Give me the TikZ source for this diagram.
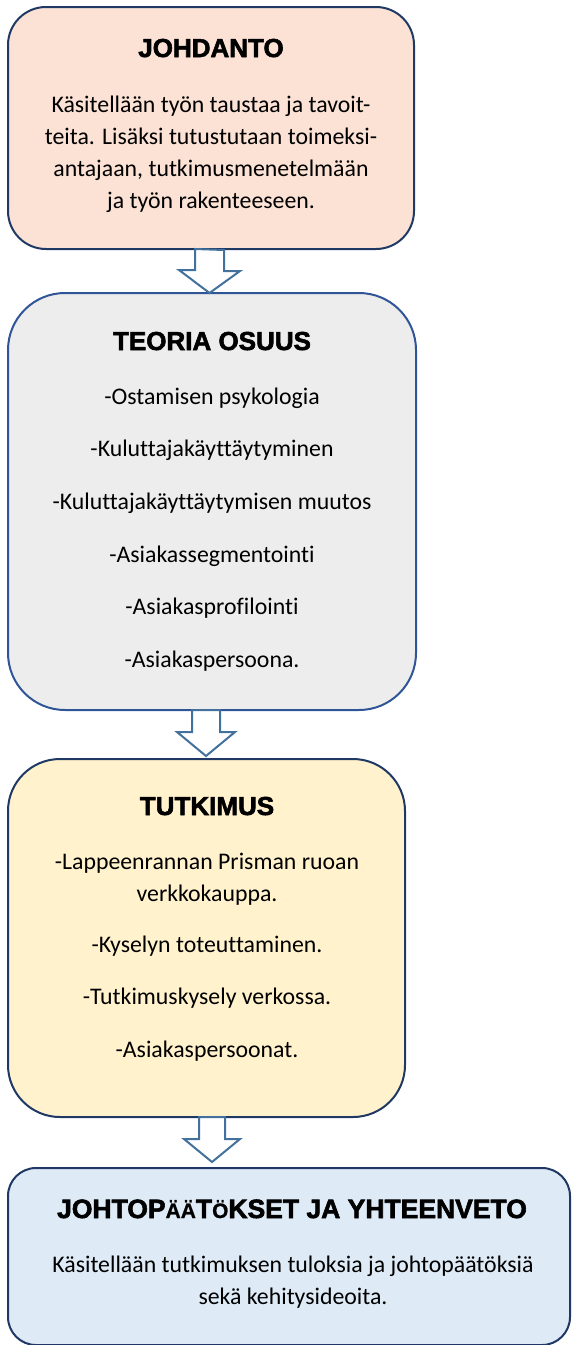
\documentclass[tikz,border=0pt]{standalone}
\usepackage{fontspec}
\setmainfont{Carlito}[Ligatures=NoCommon]
\newfontfamily\heavy{Liberation Sans}[FakeBold=2.2]
\newfontfamily\plainsans{Liberation Sans}[FakeBold=0.8]
\definecolor{fillA}{HTML}{FBE2D5}
\definecolor{fillB}{HTML}{EDEDED}
\definecolor{fillC}{HTML}{FFF2CC}
\definecolor{fillD}{HTML}{DEEBF7}
\definecolor{navy}{HTML}{203864}
\definecolor{blueB}{HTML}{2F5597}
\definecolor{arrowc}{HTML}{41719C}
\tikzset{
  box/.style={draw=navy, line width=2pt, inner sep=0pt, outer sep=0pt},
  ttl/.style={anchor=base, inner sep=0pt, font=\heavy\bfseries\fontsize{26}{30}\selectfont},
  body/.style={anchor=base, inner sep=0pt, font=\fontsize{23.8}{28}\selectfont},
  blockarr/.style={draw=arrowc, fill=white, line width=2pt, line join=miter}
}
\newcommand{\sm}[1]{{\plainsans\bfseries\fontsize{21}{21}\selectfont #1}}
\begin{document}
\begin{tikzpicture}[x=1pt,y=-1pt]
\useasboundingbox (0,0) rectangle (575,1345);
% boxes
\node[box, fill=fillA, minimum width=406, minimum height=242, rounded corners=38] (b1) at (211,128) {};
\node[box, draw=blueB, fill=fillB, minimum width=408, minimum height=417, rounded corners=57] (b2) at (212,501.5) {};
\node[box, fill=fillC, minimum width=397, minimum height=358, rounded corners=52] (b3) at (206.5,938) {};
\node[box, fill=fillD, minimum width=562, minimum height=177, rounded corners=28] (b4) at (289,1256.5) {};
% arrows
\path (b1.south) ++(-1.5,0) coordinate (a1);
\draw[blockarr] (a1) ++(-14.5,0) -- ++(0,21) -- ++(-16,0) -- (a1 |- b2.north) -- ++(30.5,-22) -- ++(-16,0) -- ++(0,-21) -- cycle;
\path (b2.south) ++(-6.5,0) coordinate (a2);
\draw[blockarr] (a2) ++(-13.5,0) -- ++(0,22) -- ++(-15,0) -- ++(29,24) -- ++(29,-24) -- ++(-15,0) -- ++(0,-22) -- cycle;
\path (b3.south) ++(5.5,0) coordinate (a3);
\draw[blockarr] (a3) ++(-13,0) -- ++(0,22) -- ++(-15,0) -- ++(28,23) -- ++(28,-23) -- ++(-15,0) -- ++(0,-22) -- cycle;
% box 1 text
\node[ttl] (t1) at (211,57) {JOHDANTO};
\node[body] (l11) at (211,112) {Käsitellään työn taustaa ja tavoit-};
\node[body] (l12) at (211,144) {teita. Lisäksi tutustutaan toimeksi-};
\node[body] (l13) at (211,176) {antajaan, tutkimusmenetelmään};
\node[body] (l14) at (211,208) {ja työn rakenteeseen.};
% box 2 text
\node[ttl] (t2) at (212,350) {TEORIA OSUUS};
\node[body] (l21) at (212,404) {-Ostamisen psykologia};
\node[body] (l22) at (212,456) {-Kuluttajakäyttäytyminen};
\node[body] (l23) at (212,509) {-Kuluttajakäyttäytymisen muutos};
\node[body] (l24) at (212,562) {-Asiakassegmentointi};
\node[body] (l25) at (212,614) {-Asiakasprofilointi};
\node[body] (l26) at (212,667) {-Asiakaspersoona.};
% box 3 text
\node[ttl] (t3) at (207,815) {TUTKIMUS};
\node[body] (l31) at (207,869) {-Lappeenrannan Prisman ruoan};
\node[body] (l32) at (207,901) {verkkokauppa.};
\node[body] (l33) at (207,952) {-Kyselyn toteuttaminen.};
\node[body] (l34) at (207,1004) {-Tutkimuskysely verkossa.};
\node[body] (l35) at (207,1057) {-Asiakaspersoonat.};
% box 4 text
\node[ttl, font=\heavy\bfseries\fontsize{26.5}{30}\selectfont] (t4) at (292,1218) {JOHTOP\sm{ÄÄ}T\sm{Ö}KSET JA YHTEENVETO};
\node[body] (l41) at (293,1272) {Käsitellään tutkimuksen tuloksia ja johtopäätöksiä};
\node[body] (l42) at (293,1304) {sekä kehitysideoita.};
\end{tikzpicture}
\end{document}
